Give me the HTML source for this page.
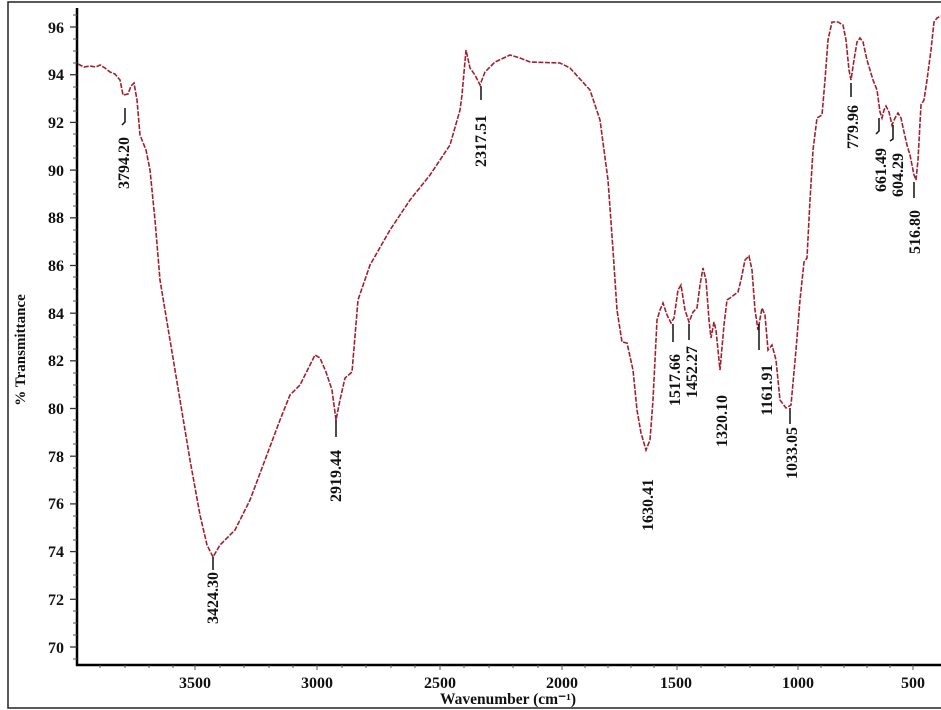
<!DOCTYPE html>
<html><head><meta charset="utf-8"><style>
html,body{margin:0;padding:0;background:#fff;}
svg{display:block;}
text{font-family:"Liberation Serif",serif;font-weight:bold;fill:#111;}
</style></head><body>
<svg width="941" height="710" viewBox="0 0 941 710" xmlns="http://www.w3.org/2000/svg">
<rect x="8" y="2" width="940" height="706" fill="none" stroke="#222" stroke-width="1.5"/>
<line x1="77" y1="8" x2="77" y2="666" stroke="#000" stroke-width="2.5"/>
<line x1="76" y1="665" x2="941" y2="665" stroke="#000" stroke-width="2.5"/>
<g stroke="#333" stroke-width="1.3">
<line x1="70" y1="27" x2="77" y2="27"/><line x1="70" y1="74.7" x2="77" y2="74.7"/><line x1="70" y1="122.4" x2="77" y2="122.4"/><line x1="70" y1="170.1" x2="77" y2="170.1"/><line x1="70" y1="217.8" x2="77" y2="217.8"/><line x1="70" y1="265.5" x2="77" y2="265.5"/><line x1="70" y1="313.2" x2="77" y2="313.2"/><line x1="70" y1="360.8" x2="77" y2="360.8"/><line x1="70" y1="408.5" x2="77" y2="408.5"/><line x1="70" y1="456.2" x2="77" y2="456.2"/><line x1="70" y1="503.9" x2="77" y2="503.9"/><line x1="70" y1="551.6" x2="77" y2="551.6"/><line x1="70" y1="599.3" x2="77" y2="599.3"/><line x1="70" y1="647" x2="77" y2="647"/>
</g>
<g stroke="#555" stroke-width="1">
<path d="M73 15H77M73 39H77M73 51H77M73 63H77M73 87H77M73 99H77M73 111H77M73 134H77M73 146H77M73 158H77M73 182H77M73 194H77M73 206H77M73 230H77M73 242H77M73 254H77M73 277H77M73 289H77M73 301H77M73 325H77M73 337H77M73 349H77M73 373H77M73 385H77M73 397H77M73 420H77M73 432H77M73 444H77M73 468H77M73 480H77M73 492H77M73 516H77M73 528H77M73 540H77M73 563H77M73 575H77M73 587H77M73 611H77M73 623H77M73 635H77M73 659H77"/>
<path d="M100 665V668M125 665V668M149 665V668M173 665V668M195 665V670M220 665V668M244 665V668M269 665V668M293 665V668M317 665V670M342 665V668M366 665V668M391 665V668M415 665V668M440 665V670M464 665V668M489 665V668M513 665V668M538 665V668M562 665V670M585 665V668M608 665V668M631 665V668M654 665V668M677 665V670M701 665V668M725 665V668M750 665V668M774 665V668M798 665V670M821 665V668M844 665V668M867 665V668M890 665V668M913 665V670"/>
</g>
<g font-size="16" text-anchor="end">
<text x="64" y="33">96</text><text x="64" y="80">94</text><text x="64" y="128">92</text><text x="64" y="176">90</text><text x="64" y="223">88</text><text x="64" y="271">86</text><text x="64" y="319">84</text><text x="64" y="366">82</text><text x="64" y="414">80</text><text x="64" y="462">78</text><text x="64" y="509">76</text><text x="64" y="557">74</text><text x="64" y="605">72</text><text x="64" y="653">70</text>
</g>
<g font-size="16" text-anchor="middle">
<text x="195" y="688">3500</text><text x="317" y="688">3000</text><text x="440" y="688">2500</text><text x="562" y="688">2000</text><text x="676" y="688">1500</text><text x="798" y="688">1000</text><text x="913" y="688">500</text>
</g>
<text x="508" y="704" font-size="15.5" text-anchor="middle">Wavenumber (cm⁻¹)</text>
<text transform="translate(25,350) rotate(-90)" font-size="15" text-anchor="middle">% Transmittance</text>
<polyline fill="none" stroke="#a02030" stroke-width="1.6" stroke-dasharray="5 1.5" points="78,64 84,67 90,66 96,67 100,65 105,68 110,72 115,74 120,80 123,95 128,94 131,86 134,83 137,100 140,135 146,150 150,170 155,220 160,280 170,340 180,400 190,460 200,515 207,545 213,557 220,545 235,530 250,500 265,460 280,420 290,395 300,385 310,365 315,355 320,358 326,372 332,390 336,420 340,400 345,378 352,372 358,300 370,265 390,230 410,200 430,175 450,145 460,110 462,95 466,50 470,68 475,75 480,85 485,72 495,62 510,55 520,58 530,62 560,63 570,68 590,90 600,120 608,180 613,250 617,310 622,342 627,343 633,370 637,410 641,433 646,450 650,440 653,400 657,320 660,310 663,303 667,315 671,323 674,318 678,290 681,285 685,310 689,322 693,312 697,308 700,285 703,268 706,280 709,320 711,338 714,322 716,330 720,370 724,325 727,300 730,298 738,292 741,280 745,260 749,256 752,270 755,310 758,330 762,308 765,315 768,350 772,345 776,360 780,400 786,408 791,405 796,350 800,300 804,262 807,258 810,200 813,150 817,118 822,115 825,80 828,40 832,22 838,22 843,25 846,40 849,70 851,80 854,60 857,42 860,38 863,42 867,60 870,70 873,80 877,90 880,112 882,118 884,110 886,106 889,112 892,125 895,118 898,113 901,118 904,132 907,145 910,155 914,175 916,180 918,160 921,105 924,100 927,80 931,50 934,22 937,18 941,16"/>
<g stroke="#111" stroke-width="1.5" fill="none">
<path d="M125 108V122L122 125"/><path d="M213 557V570"/><path d="M336 420V437"/><path d="M481 86V100"/><path d="M673 324V342"/><path d="M689 324V340"/><path d="M759 324V350"/><path d="M790 408V424"/><path d="M851 83V97"/><path d="M879 118V131L876 134"/><path d="M893 125V139L890 141"/><path d="M914 182V198"/>
</g>
<g font-size="16" text-anchor="middle">
<text transform="translate(129,163) rotate(-90)">3794.20</text>
<text transform="translate(218,598) rotate(-90)">3424.30</text>
<text transform="translate(341,476) rotate(-90)">2919.44</text>
<text transform="translate(486,141) rotate(-90)">2317.51</text>
<text transform="translate(653,505) rotate(-90)">1630.41</text>
<text transform="translate(680,380) rotate(-90)">1517.66</text>
<text transform="translate(697,372) rotate(-90)">1452.27</text>
<text transform="translate(727,421) rotate(-90)">1320.10</text>
<text transform="translate(772,390) rotate(-90)">1161.91</text>
<text transform="translate(797,453) rotate(-90)">1033.05</text>
<text transform="translate(858,127) rotate(-90)">779.96</text>
<text transform="translate(886,170) rotate(-90)">661.49</text>
<text transform="translate(903,175) rotate(-90)">604.29</text>
<text transform="translate(920,232) rotate(-90)">516.80</text>
</g>
</svg>
</body></html>
